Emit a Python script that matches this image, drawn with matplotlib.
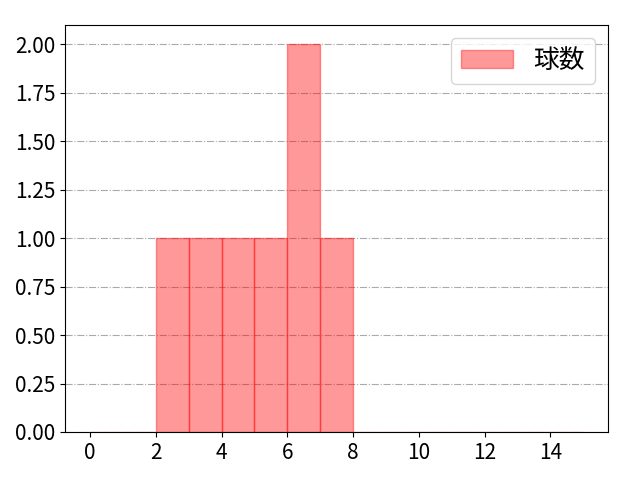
import matplotlib
matplotlib.use('Agg')
import matplotlib.pyplot as plt

plt.rcParams['font.family'] = ['Noto Sans CJK JP', 'DejaVu Sans']

# Pitch counts per value
pitch_values = [2, 3, 4, 5, 6, 6, 7]
bin_edges = list(range(0, 16))
x_ticks = [0, 2, 4, 6, 8, 10, 12, 14]
y_ticks = [0.00, 0.25, 0.50, 0.75, 1.00, 1.25, 1.50, 1.75, 2.00]

fig, ax = plt.subplots(figsize=(6.4, 4.8), dpi=100)
fig.subplots_adjust(left=0.102, right=0.95, top=0.948, bottom=0.1)

ax.hist(pitch_values, bins=bin_edges, color='red', alpha=0.4,
        edgecolor='red', linewidth=1, label='球数')
ax.set_xlim(-0.75, 15.75)
ax.set_ylim(0, 2.1)
ax.set_xticks(x_ticks)
ax.set_yticks(y_ticks)
ax.set_yticklabels([f'{v:.2f}' for v in y_ticks])
ax.tick_params(labelsize=15)
ax.grid(axis='y', linestyle='-.', color='#aaaaaa', linewidth=0.8)
ax.set_axisbelow(True)
ax.legend(loc='upper right', fontsize=18.5)

fig.savefig('out.png')
